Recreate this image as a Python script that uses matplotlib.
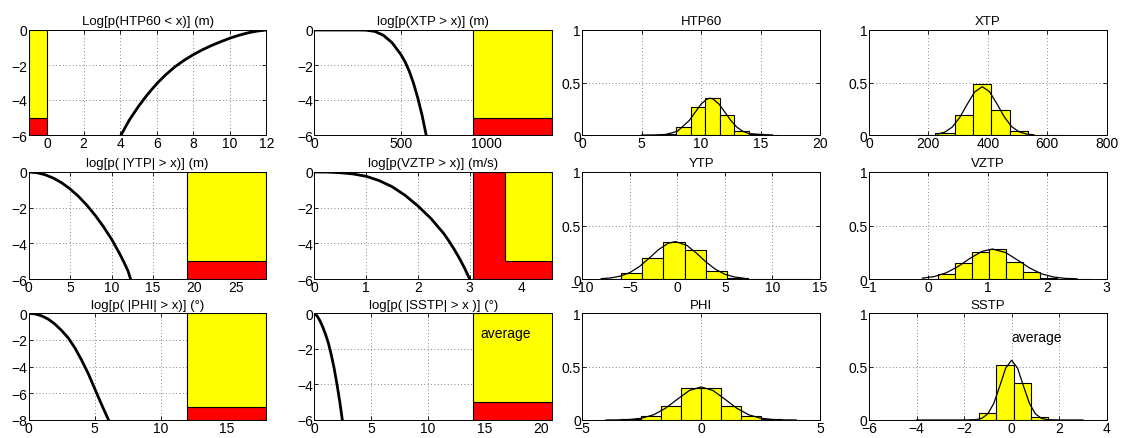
import matplotlib
matplotlib.use('Agg')
import matplotlib.pyplot as plt

plt.rcParams['font.family'] = ['Liberation Sans', 'DejaVu Sans']
plt.rcParams['font.size'] = 9

# ---------------- data: log-probability curves (left two columns) ----------------
htp60_x = [4.05, 4.5, 5.0, 5.5, 6.0, 6.5, 7.0, 7.5, 8.0, 8.5, 9.0, 9.5, 10.0, 10.5, 11.0, 11.5, 12.0]
htp60_y = [-6.0, -5.15, -4.37, -3.68, -3.07, -2.55, -2.1, -1.73, -1.41, -1.13, -0.885, -0.67, -0.47, -0.3, -0.16, -0.06, 0.0]

xtp_x = [0, 250, 300, 350, 400, 450, 500, 525, 550, 575, 600, 625, 648]
xtp_y = [0.0, 0.0, -0.01, -0.08, -0.3, -0.72, -1.38, -1.8, -2.35, -3.05, -3.9, -4.9, -6.0]

ytp_x = [0, 1, 2, 3, 4, 5, 6, 7, 8, 9, 10, 11, 11.5, 12, 12.3]
ytp_y = [0.0, -0.04, -0.157, -0.347, -0.611, -0.95, -1.363, -1.851, -2.413, -3.05, -3.76, -4.6, -5.06, -5.56, -6.0]

vztp_x = [0, 0.25, 0.5, 0.75, 1.0, 1.25, 1.5, 1.75, 2.0, 2.25, 2.5, 2.6, 2.7, 2.8, 2.9, 3.0]
vztp_y = [0.0, -0.005, -0.04, -0.11, -0.24, -0.48, -0.82, -1.3, -1.9, -2.6, -3.45, -3.87, -4.33, -4.83, -5.38, -6.0]

phi_x = [0, 0.5, 1, 1.5, 2, 2.5, 3, 3.5, 4, 4.5, 5, 5.5, 6, 6.05]
phi_y = [0.0, -0.05, -0.2, -0.45, -0.82, -1.3, -1.85, -2.6, -3.5, -4.5, -5.65, -6.8, -7.9, -8.0]

sstp_x = [0, 0.25, 0.5, 0.75, 1.0, 1.25, 1.5, 1.75, 2.0, 2.25, 2.47]
sstp_y = [0.0, -0.15, -0.42, -0.78, -1.2, -1.7, -2.35, -3.1, -4.0, -5.0, -6.0]

# summary boxes: [x_start, x_end, y_bottom, split_level, y_top]
htp60_box = [-1, 0, -6, -5, 0]
xtp_box = [919, 1377, -6, -5, 0]
ytp_box = [19.1, 28.7, -6, -5, 0]
vztp_box = [3.06, 4.59, -6, -5, 0]
vztp_box_split_x = 3.68
phi_box = [12, 18, -8, -7, 0]
sstp_box = [14, 21, -6, -5, 0]

# ---------------- data: histograms (right two columns) ----------------
htp60_edges = [5.45, 6.67, 7.9, 9.12, 10.35, 11.57, 12.8, 14.02, 15.25, 16.47]
htp60_hist = [0.002, 0.01, 0.08, 0.27, 0.35, 0.19, 0.04, 0.005, 0.002]
htp60_fit_x = [5, 6, 7, 8, 9, 9.5, 10, 10.5, 10.75, 11, 11.5, 12, 12.5, 13, 13.5, 14, 15, 16]
htp60_fit_y = [0.0, 0.0004, 0.0048, 0.035, 0.138, 0.217, 0.295, 0.343, 0.35, 0.343, 0.295, 0.217, 0.138, 0.075, 0.035, 0.014, 0.0048, 0.0004]

xtp_edges = [161, 223, 288, 349, 411, 473, 535, 597, 659]
xtp_hist = [0.002, 0.015, 0.19, 0.49, 0.24, 0.035, 0.003, 0.001]
xtp_fit_x = [230, 255, 280, 305, 330, 355, 381, 405, 430, 455, 480, 505, 530, 555]
xtp_fit_y = [0.008, 0.027, 0.075, 0.165, 0.29, 0.408, 0.46, 0.415, 0.30, 0.174, 0.08, 0.03, 0.009, 0.002]

ytp_edges = [-8.15, -5.92, -3.69, -1.46, 0.77, 3.0, 5.23, 7.46, 9.69, 11.92, 14.15]
ytp_hist = [0.003, 0.057, 0.2, 0.35, 0.27, 0.076, 0.006, 0.001, 0.001, 0.001]
ytp_fit_x = [-8, -7, -6, -5, -4, -3, -2, -1, -0.2, 1, 2, 3, 4, 5, 6, 7]
ytp_fit_y = [0.0034, 0.010, 0.027, 0.060, 0.116, 0.192, 0.273, 0.333, 0.35, 0.314, 0.242, 0.160, 0.091, 0.044, 0.019, 0.007]

vztp_edges = [-0.12, 0.165, 0.45, 0.735, 1.02, 1.305, 1.59, 1.875, 2.16, 2.445, 2.73]
vztp_hist = [0.004, 0.045, 0.145, 0.25, 0.285, 0.16, 0.066, 0.012, 0.002, 0.002]
vztp_fit_x = [-0.1, 0.1, 0.3, 0.5, 0.7, 0.9, 1.08, 1.3, 1.5, 1.7, 1.9, 2.1, 2.3, 2.5]
vztp_fit_y = [0.008, 0.023, 0.058, 0.117, 0.193, 0.258, 0.28, 0.247, 0.177, 0.104, 0.049, 0.019, 0.006, 0.0015]

phi_edges = [-4.2, -3.36, -2.52, -1.68, -0.84, 0.0, 0.84, 1.68, 2.52, 3.36, 4.2]
phi_hist = [0.002, 0.005, 0.04, 0.135, 0.30, 0.30, 0.13, 0.04, 0.005, 0.002]
phi_fit_x = [-4, -3.5, -3, -2.5, -2, -1.5, -1, -0.5, 0, 0.5, 1, 1.5, 2, 2.5, 3, 3.5, 4]
phi_fit_y = [0.0002, 0.001, 0.0048, 0.017, 0.049, 0.110, 0.195, 0.276, 0.31, 0.276, 0.195, 0.110, 0.049, 0.017, 0.0048, 0.001, 0.0002]

sstp_edges = [-4.27, -3.545, -2.82, -2.095, -1.37, -0.645, 0.08, 0.805, 1.53, 2.255, 2.98]
sstp_hist = [0.001, 0.001, 0.001, 0.001, 0.066, 0.52, 0.343, 0.03, 0.003, 0.001]
sstp_fit_x = [-4, -3, -2, -1.5, -1.25, -1, -0.75, -0.5, -0.25, 0, 0.25, 0.5, 0.75, 1, 1.25, 1.5, 2, 3]
sstp_fit_y = [0.0, 0.0, 0.0001, 0.0034, 0.016, 0.058, 0.156, 0.317, 0.486, 0.56, 0.486, 0.317, 0.156, 0.058, 0.016, 0.0034, 0.0001, 0.0]

titles_cdf = ['Log[p(HTP60 < x)] (m)', 'log[p(XTP > x)] (m)',
              'log[p( |YTP| > x)] (m)', 'log[p(VZTP > x)] (m/s)',
              'log[p( |PHI| > x)] (°)', 'log[p( |SSTP| > x )] (°)']
titles_hist = ['HTP60', 'XTP', 'YTP', 'VZTP', 'PHI', 'SSTP']

# ---------------- layout ----------------
W, H = 1124, 439
fig = plt.figure(figsize=(W / 100, H / 100), dpi=100)
col_left = [28.7, 314.3, 582.3, 869.0]
ax_w = 237.7
row_top = [31.0, 173.0, 314.3]
row_bot = [136.0, 280.0, 421.0]
TICK_FS = 10
TITLE_FS = 9.5


def make_ax(r, c):
    l = col_left[c]
    ax = fig.add_axes([l / W, 1 - row_bot[r] / H, ax_w / W, (row_bot[r] - row_top[r]) / H])
    ax.grid(True, linestyle=(0, (1, 3)), color='0.35', linewidth=0.6)
    ax.set_axisbelow(True)
    ax.tick_params(direction='in', length=3, width=0.6, top=True, right=True, pad=1.0, labelsize=TICK_FS)
    for s in ax.spines.values():
        s.set_linewidth(0.7)
    return ax


def box(ax, b, split_x=None):
    x0, x1, yb, ys, yt = b
    if split_x is None:
        ax.bar(x0, ys - yb, width=x1 - x0, bottom=yb, align='edge', color='red', edgecolor='black', linewidth=0.8, zorder=3)
        ax.bar(x0, yt - ys, width=x1 - x0, bottom=ys, align='edge', color='yellow', edgecolor='black', linewidth=0.8, zorder=3)
    else:
        ax.bar(x0, yt - yb, width=x1 - x0, bottom=yb, align='edge', color='red', edgecolor='black', linewidth=0.8, zorder=3)
        ax.bar(split_x, yt - ys, width=x1 - split_x, bottom=ys, align='edge', color='yellow', edgecolor='black', linewidth=0.8, zorder=3)


def cdf_panel(r, c, x, y, b, xlim, ylim, xticks, yticks, title, split_x=None):
    ax = make_ax(r, c)
    box(ax, b, split_x)
    ax.plot(x, y, color='black', linewidth=2, zorder=4, solid_joinstyle='round')
    ax.set_xlim(*xlim)
    ax.set_ylim(*ylim)
    ax.set_xticks(xticks)
    ax.set_yticks(yticks)
    ax.set_title(title, fontsize=TITLE_FS, pad=4)
    return ax


def hist_panel(r, c, edges, h, fx, fy, xlim, xticks, title):
    ax = make_ax(r, c)
    widths = [edges[i + 1] - edges[i] for i in range(len(h))]
    ax.bar(edges[:-1], h, width=widths, align='edge', color='yellow', edgecolor='black', linewidth=0.8, zorder=3)
    ax.plot(fx, fy, color='black', linewidth=0.9, zorder=4)
    ax.set_xlim(*xlim)
    ax.set_ylim(0, 1)
    ax.set_xticks(xticks)
    ax.set_yticks([0, 0.5, 1])
    ax.set_yticklabels(['0', '0.5', '1'])
    ax.set_title(title, fontsize=TITLE_FS, pad=4)
    return ax


y6 = [-6, -4, -2, 0]
cdf_panel(0, 0, htp60_x, htp60_y, htp60_box, (-1, 12), (-6, 0), [0, 2, 4, 6, 8, 10, 12], y6, titles_cdf[0])
cdf_panel(0, 1, xtp_x, xtp_y, xtp_box, (0, 1377), (-6, 0), [0, 500, 1000], y6, titles_cdf[1])
cdf_panel(1, 0, ytp_x, ytp_y, ytp_box, (0, 28.7), (-6, 0), [0, 5, 10, 15, 20, 25], y6, titles_cdf[2])
cdf_panel(1, 1, vztp_x, vztp_y, vztp_box, (0, 4.59), (-6, 0), [0, 1, 2, 3, 4], y6, titles_cdf[3], split_x=vztp_box_split_x)
cdf_panel(2, 0, phi_x, phi_y, phi_box, (0, 18), (-8, 0), [0, 5, 10, 15], [-8, -6, -4, -2, 0], titles_cdf[4])
ax_s = cdf_panel(2, 1, sstp_x, sstp_y, sstp_box, (0, 20.94), (-6, 0), [0, 5, 10, 15, 20], y6, titles_cdf[5])
ax_s.text(14.6, -1.08, 'average', fontsize=10, va='center', ha='left', zorder=5)

hist_panel(0, 2, htp60_edges, htp60_hist, htp60_fit_x, htp60_fit_y, (0, 20), [0, 5, 10, 15, 20], titles_hist[0])
hist_panel(0, 3, xtp_edges, xtp_hist, xtp_fit_x, xtp_fit_y, (0, 800), [0, 200, 400, 600, 800], titles_hist[1])
hist_panel(1, 2, ytp_edges, ytp_hist, ytp_fit_x, ytp_fit_y, (-10, 15), [-10, -5, 0, 5, 10, 15], titles_hist[2])
hist_panel(1, 3, vztp_edges, vztp_hist, vztp_fit_x, vztp_fit_y, (-1, 3), [-1, 0, 1, 2, 3], titles_hist[3])
hist_panel(2, 2, phi_edges, phi_hist, phi_fit_x, phi_fit_y, (-5, 5), [-5, 0, 5], titles_hist[4])
ax_h = hist_panel(2, 3, sstp_edges, sstp_hist, sstp_fit_x, sstp_fit_y, (-6, 4), [-6, -4, -2, 0, 2, 4], titles_hist[5])
ax_h.text(0.0, 0.78, 'average', fontsize=10, va='center', ha='left', zorder=5)

fig.savefig('out.png', dpi=100)
